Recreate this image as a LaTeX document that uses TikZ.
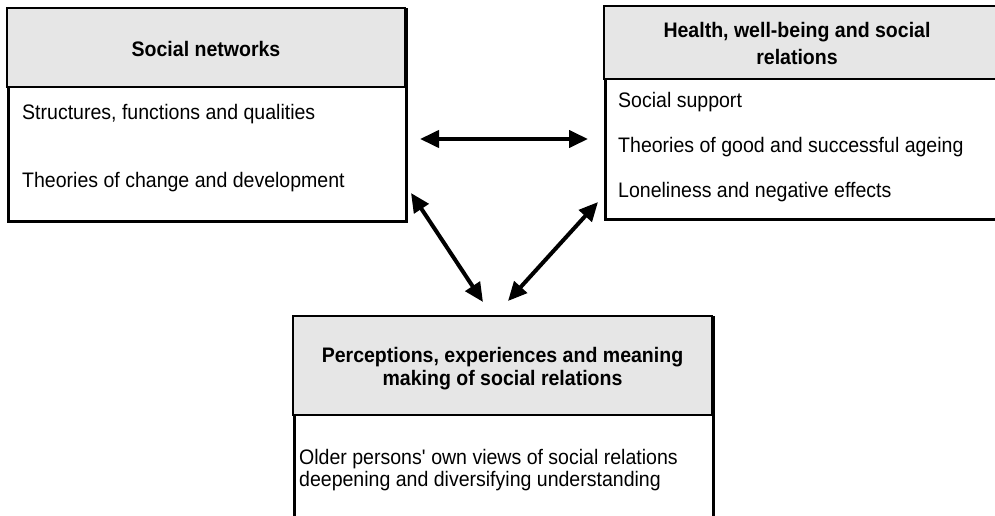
\documentclass[tikz,border=0pt]{standalone}
\usepackage{fontspec}
\setmainfont{Liberation Sans}[FakeStretch=0.93]
\usetikzlibrary{arrows.meta}

\definecolor{hdrgray}{RGB}{230,230,230}

\tikzset{
  frame/.style={draw=black, line width=2.5pt},
  header/.style={fill=hdrgray, draw=black, line width=2.5pt},
  title/.style={font=\bfseries\fontsize{21}{23}\selectfont, anchor=base, inner sep=0pt},
  item/.style={font=\fontsize{21}{23}\selectfont, anchor=base west, inner sep=0pt},
  link/.style={line width=4pt, {Triangle[length=19pt,width=17pt]}-{Triangle[length=19pt,width=17pt]}}
}

\begin{document}
\begin{tikzpicture}[x=1pt, y=-1pt]
  \useasboundingbox (0,0) rectangle (995,516);
  \clip (0,0) rectangle (995,516);
  \fill[white] (0,0) rectangle (995,516);

  % Social networks box
  \node[frame, anchor=north west, minimum width=398pt, minimum height=212pt, inner sep=0pt] (snbox) at (7,8) {};
  \path[header] (7,8) rectangle (405,87);
  \node[title] (snhead) at (206,57) {Social networks};
  \node[item] (sn1) at (22,120) {Structures, functions and qualities};
  \node[item] (sn2) at (22,187) {Theories of change and development};

  % Health, well-being and social relations box (runs off the right edge)
  \node[frame, anchor=north west, minimum width=400pt, minimum height=212pt, inner sep=0pt] (hwbox) at (604,6) {};
  \path[header] (604,6) rectangle (1004,79);
  \node[title] (hwhead1) at (797,38) {Health, well-being and social};
  \node[title] (hwhead2) at (797,65) {relations};
  \node[item] (hw1) at (618,107) {Social support};
  \node[item] (hw2) at (618,152) {Theories of good and successful ageing};
  \node[item] (hw3) at (618,197) {Loneliness and negative effects};

  % Perceptions box (runs off the bottom edge)
  \node[frame, anchor=north west, minimum width=419pt, minimum height=230pt, inner sep=0pt] (pebox) at (293,316) {};
  \path[header] (293,316) rectangle (712,415);
  \node[title] (pehead1) at (502.5,362) {Perceptions, experiences and meaning};
  \node[title] (pehead2) at (502.5,385) {making of social relations};
  \node[item] (pe1) at (299,464) {Older persons\textquotesingle{} own views of social relations};
  \node[item] (pe2) at (299,486) {deepening and diversifying understanding};

  % Arrow end points
  \coordinate (hA) at (420,139);
  \coordinate (hB) at (588,139);
  \coordinate (lA) at (411,193);
  \coordinate (lB) at (483,302);
  \coordinate (rA) at (598,202);
  \coordinate (rB) at (508,301);

  \draw[link] (hA) -- (hB);
  \draw[link] (lA) -- (lB);
  \draw[link] (rA) -- (rB);
\end{tikzpicture}
\end{document}
